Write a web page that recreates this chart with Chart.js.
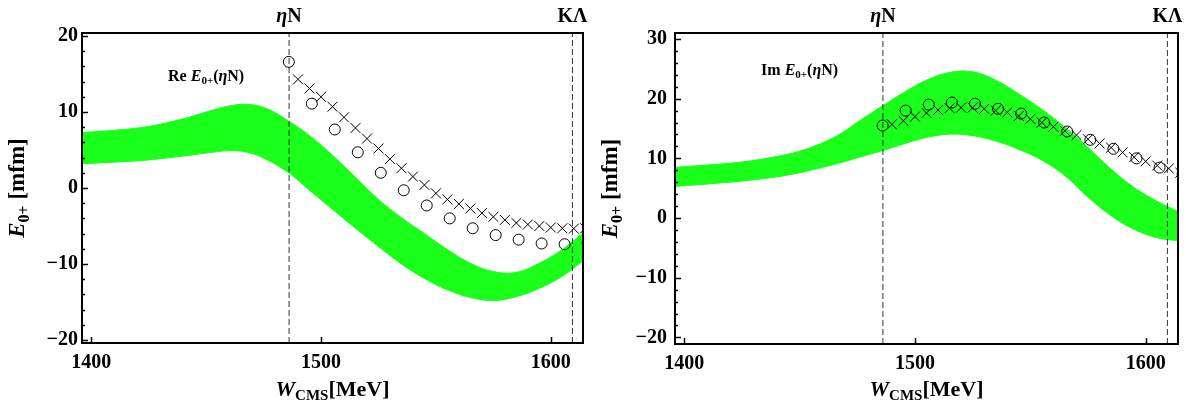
<!DOCTYPE html>
<html>
<head>
<meta charset="utf-8">
<script src="https://cdn.jsdelivr.net/npm/chart.js@4.4.0/dist/chart.umd.min.js"></script>
<style>
html,body{margin:0;padding:0;background:#fff;}
#wrap{position:relative;width:1186px;height:400px;}
canvas{position:absolute;top:0;}
</style>
</head>
<body>
<div id="wrap">
<canvas id="cRe" width="593" height="400" style="left:0px"></canvas>
<canvas id="cIm" width="593" height="400" style="left:593px"></canvas>
</div>
<script>
// ---------- data ----------
const xRange = [1396, 1614];
const xTickValues = [1400, 1500, 1600];
const thresholdX = [1486.1, 1609.4];
const thresholdNames = ['ηN', 'KΛ'];

const reYRange = [-20.4, 20.4];
const imYRange = [-21.1, 31.0];
const reYTicks = [-20, -10, 0, 10, 20];
const imYTicks = [-20, -10, 0, 10, 20, 30];

const bandX = [1396, 1410, 1425, 1440, 1450, 1460, 1468, 1476, 1486, 1495, 1505, 1515, 1525, 1535, 1545, 1555, 1565, 1575, 1585, 1595, 1605, 1614];
const reBandUpper = [7.3, 7.6, 8.1, 9.1, 10.0, 10.8, 11.0, 10.5, 8.8, 6.9, 4.3, 1.4, -1.5, -3.9, -6.0, -8.1, -9.9, -11.0, -11.1, -9.9, -8.1, -5.9];
const reBandLower = [3.2, 3.4, 3.7, 4.2, 4.6, 4.9, 4.7, 3.8, 2.0, -0.3, -2.8, -5.3, -7.7, -10.0, -11.9, -13.4, -14.4, -14.8, -14.3, -13.2, -11.6, -9.6];
const imBandUpper = [8.5, 8.9, 9.4, 10.3, 11.2, 12.6, 14.2, 16.3, 18.8, 21.0, 23.1, 24.4, 24.5, 23.1, 20.8, 18.2, 15.2, 11.8, 8.2, 5.1, 2.8, 1.1];
const imBandLower = [5.3, 5.7, 6.2, 6.9, 7.6, 8.5, 9.3, 10.2, 11.3, 12.4, 13.5, 14.05, 13.8, 12.9, 11.5, 9.7, 7.1, 3.5, 0.4, -1.9, -3.3, -3.8];

const circleX = [1486, 1496, 1506, 1516, 1526, 1536, 1546, 1556, 1566, 1576, 1586, 1596, 1606, 1616];
const reCircles = [16.6, 11.1, 7.7, 4.7, 2.0, -0.3, -2.3, -4.0, -5.3, -6.2, -6.8, -7.3, -7.4, -7.2];
const imCircles = [15.5, 18.0, 19.0, 19.35, 19.15, 18.3, 17.5, 16.0, 14.5, 13.1, 11.6, 10.0, 8.45, 7.35];

const crossX = [1490, 1495, 1500, 1505, 1510, 1515, 1520, 1525, 1530, 1535, 1540, 1545, 1550, 1555, 1560, 1565, 1570, 1575, 1580, 1585, 1590, 1595, 1600, 1605, 1610, 1615];
const reCrosses = [14.3, 13.1, 12.0, 10.7, 9.3, 7.9, 6.5, 5.2, 3.8, 2.6, 1.5, 0.4, -0.7, -1.5, -2.1, -2.7, -3.3, -3.8, -4.2, -4.6, -4.8, -5.0, -5.2, -5.3, -5.35, -5.3];
const imCrosses = [15.7, 16.3, 17.0, 17.6, 18.1, 18.4, 18.5, 18.5, 18.3, 18.0, 17.7, 17.1, 16.6, 16.0, 15.3, 14.6, 13.9, 13.2, 12.5, 11.8, 11.0, 10.2, 9.5, 8.8, 8.3, 7.6];

const reLabelPos = [1450, 14.7];
const imLabelPos = [1450, 24.8];

// ---------- helpers ----------
const SERIF = "'Liberation Serif', 'Times New Roman', serif";
const GREEN = 'rgb(25,255,25)';
function f(style, size) { return style + ' ' + size + 'px ' + SERIF; }
function pts(xs, ys) { return xs.map((x, i) => ({x: x, y: ys[i]})); }

function drawRich(ctx, segs, x, y, align) {
  let w = 0;
  segs.forEach(s => { ctx.font = s[1]; w += ctx.measureText(s[0]).width; });
  let cx = align === 'center' ? x - w / 2 : (align === 'right' ? x - w : x);
  ctx.textAlign = 'left';
  ctx.textBaseline = 'alphabetic';
  ctx.fillStyle = '#000';
  segs.forEach(s => {
    ctx.font = s[1];
    ctx.fillText(s[0], cx, y + (s[2] || 0));
    cx += ctx.measureText(s[0]).width;
  });
}

const decorPlugin = {
  id: 'decor',
  afterDraw(chart) {
    const o = chart.options.plugins.decor;
    const {ctx, chartArea: a} = chart;
    const xs = chart.scales.x, ys = chart.scales.y;
    ctx.save();
    // frame
    ctx.strokeStyle = '#000';
    ctx.lineWidth = 2;
    ctx.strokeRect(a.left, a.top, a.right - a.left, a.bottom - a.top);
    // inward ticks on y
    ctx.lineWidth = 1.5;
    const yMin = ys.min, yMax = ys.max;
    for (let v = Math.ceil(yMin / 2) * 2; v <= yMax; v += 2) {
      const py = Math.round(ys.getPixelForValue(v)) + 0.5;
      const len = (v % 10 === 0) ? 6 : 3;
      ctx.beginPath();
      ctx.moveTo(a.left, py);
      ctx.lineTo(a.left + len, py);
      ctx.stroke();
    }
    // inward ticks on x
    xTickValues.forEach(v => {
      const px = Math.round(xs.getPixelForValue(v)) + 0.5;
      ctx.beginPath();
      ctx.moveTo(px, a.bottom);
      ctx.lineTo(px, a.bottom - 6);
      ctx.stroke();
    });
    // top threshold labels
    thresholdX.forEach((t, i) => {
      const px = xs.getPixelForValue(t);
      const segs = i === 0
        ? [['η', f('italic bold', 20)], ['N', f('bold', 20)]]
        : [['KΛ', f('bold', 20)]];
      drawRich(ctx, segs, px, a.top - 11, 'center');
    });
    // annotation
    const lp = o.labelPos;
    drawRich(ctx, [
      [o.prefix + ' ', f('bold', 16)],
      ['E', f('italic bold', 16)],
      ['0+', f('bold', 11), 3],
      ['(', f('bold', 16)],
      ['η', f('italic bold', 16)],
      ['N)', f('bold', 16)]
    ], xs.getPixelForValue(lp[0]), ys.getPixelForValue(lp[1]) + 5, 'center');
    // x title
    drawRich(ctx, [
      ['W', f('italic bold', 22)],
      ['CMS', f('bold', 15), 4],
      ['[MeV]', f('bold', 22)]
    ], (a.left + a.right) / 2, 396, 'center');
    // y title
    ctx.translate(o.yTitleX, (a.top + a.bottom) / 2);
    ctx.rotate(-Math.PI / 2);
    drawRich(ctx, [
      ['E', f('italic bold', 23)],
      ['0+', f('bold', 16), 5],
      [' [mfm]', f('bold', 23)]
    ], 0, 0, 'center');
    ctx.restore();
  }
};

function makeChart(id, cfg) {
  return new Chart(document.getElementById(id), {
    type: 'line',
    data: {
      datasets: [
        { data: pts(crossX, cfg.crosses), showLine: false, pointStyle: 'crossRot', pointRadius: 7,
          pointBorderWidth: 1, pointBorderColor: '#000', pointBackgroundColor: '#000', order: 0 },
        { data: pts(circleX, cfg.circles), showLine: false, pointStyle: 'circle', pointRadius: 5.5,
          pointBorderWidth: 1, pointBorderColor: '#000', pointBackgroundColor: 'rgba(0,0,0,0)', order: 1 },
        { data: [{x: thresholdX[0], y: cfg.yRange[0]}, {x: thresholdX[0], y: cfg.yRange[1]}],
          borderColor: '#333', borderWidth: 1, borderDash: [6, 3], pointRadius: 0, fill: false, order: 5 },
        { data: [{x: thresholdX[1], y: cfg.yRange[0]}, {x: thresholdX[1], y: cfg.yRange[1]}],
          borderColor: '#333', borderWidth: 1, borderDash: [6, 3], pointRadius: 0, fill: false, order: 5 },
        { data: pts(bandX, cfg.upper), borderColor: GREEN, borderWidth: 1, pointRadius: 0,
          tension: 0.4, fill: false, order: 10 },
        { data: pts(bandX, cfg.lower), borderColor: GREEN, borderWidth: 1, pointRadius: 0,
          tension: 0.4, fill: '-1', backgroundColor: GREEN, order: 10 }
      ]
    },
    options: {
      responsive: false,
      animation: false,
      devicePixelRatio: 1,
      layout: { padding: { left: 0, right: cfg.padRight, top: 33, bottom: 0 } },
      plugins: {
        legend: { display: false },
        tooltip: { enabled: false },
        decor: { labelPos: cfg.labelPos, prefix: cfg.prefix, yTitleX: 24 }
      },
      scales: {
        x: {
          type: 'linear', min: xRange[0], max: xRange[1],
          afterBuildTicks: s => { s.ticks = xTickValues.map(v => ({value: v})); },
          afterFit: s => { s.height = cfg.xAxisH; },
          grid: { display: false, drawTicks: false },
          border: { display: false },
          ticks: { font: { family: SERIF, size: 20, weight: 'bold' }, color: '#000', padding: 8,
                   maxRotation: 0, autoSkip: false, callback: v => String(v) }
        },
        y: {
          type: 'linear', min: cfg.yRange[0], max: cfg.yRange[1],
          afterBuildTicks: s => { s.ticks = cfg.yTicks.map(v => ({value: v})); },
          afterFit: s => { s.width = 82; },
          grid: { display: false, drawTicks: false },
          border: { display: false },
          ticks: { font: { family: SERIF, size: 20, weight: 'bold' }, color: '#000', padding: cfg.yPad,
                   autoSkip: false, callback: v => v < 0 ? '\u2212' + Math.abs(v) : String(v) }
        }
      }
    },
    plugins: [decorPlugin]
  });
}

makeChart('cRe', { crosses: reCrosses, circles: reCircles, upper: reBandUpper, lower: reBandLower,
  yRange: reYRange, yTicks: reYTicks, labelPos: reLabelPos, prefix: 'Re', padRight: 10, xAxisH: 57, yPad: 4 });
makeChart('cIm', { crosses: imCrosses, circles: imCircles, upper: imBandUpper, lower: imBandLower,
  yRange: imYRange, yTicks: imYTicks, labelPos: imLabelPos, prefix: 'Im', padRight: 8, xAxisH: 56, yPad: 8 });
</script>
</body>
</html>
